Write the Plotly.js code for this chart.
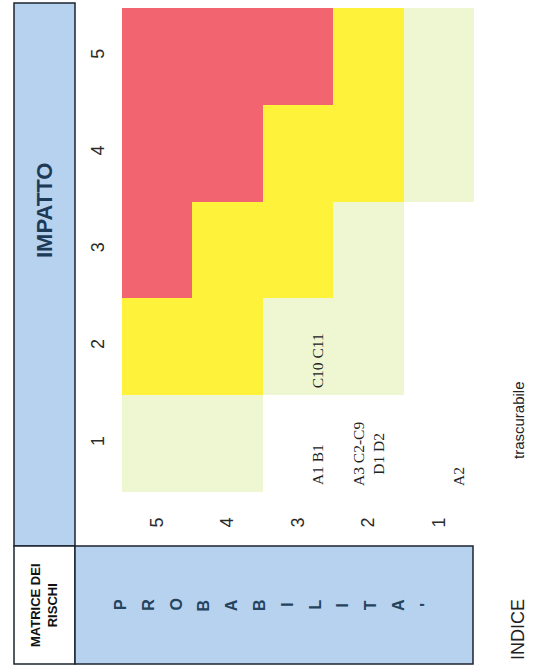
<!DOCTYPE html>
<html>
<head>
<meta charset="utf-8">
<script src="https://cdn.plot.ly/plotly-3.0.1.min.js"></script>
<style>
  html, body { margin: 0; padding: 0; background: #ffffff; }
  #chart { width: 536px; height: 672px; }
</style>
</head>
<body>
<div id="chart"></div>
<script>
// ---- data ----
var probabilityLabels = ['5', '4', '3', '2', '1'];   // columns, left to right
var impactLabels = ['1', '2', '3', '4', '5'];        // rows, bottom to top
// risk level per cell: 0 = white, 1 = trascurabile (light green), 2 = yellow, 3 = red
var levelImpact1 = [1, 1, 0, 0, 0];
var levelImpact2 = [2, 2, 1, 1, 0];
var levelImpact3 = [3, 2, 2, 1, 0];
var levelImpact4 = [3, 3, 2, 2, 1];
var levelImpact5 = [3, 3, 3, 2, 1];
// risk codes placed in cells
var codeProbability = ['3', '3', '2', '1'];
var codeImpact = ['2', '1', '1', '1'];
var codeText = ['C10 C11', 'A1 B1', 'A3 C2-C9<br>D1 D2', 'A2'];
var probabilityWord = ['P', 'R', 'O', 'B', 'A', 'B', 'I', 'L', 'I', 'T', 'A', "'"];

// ---- page geometry (pixels) ----
var W = 536, H = 672;
function px(x) { return x / W; }
function py(y) { return 1 - y / H; }
var gridL = 122, gridR = 474, gridT = 8, gridB = 492;

var colors = { white: '#ffffff', green: '#eef6d2', yellow: '#fff23a', red: '#f2646f', blue: '#b7d2ef', border: '#1b2530' };
var sans = '"Liberation Sans Narrow", "Liberation Sans", Arial, sans-serif';
var serif = '"Liberation Serif", "DejaVu Serif", serif';

var trace = {
  type: 'heatmap',
  x: probabilityLabels,
  y: impactLabels,
  z: [levelImpact1, levelImpact2, levelImpact3, levelImpact4, levelImpact5],
  zmin: -0.5, zmax: 3.5,
  colorscale: [
    [0, colors.white], [0.25, colors.white],
    [0.25, colors.green], [0.5, colors.green],
    [0.5, colors.yellow], [0.75, colors.yellow],
    [0.75, colors.red], [1, colors.red]
  ],
  showscale: false,
  hoverinfo: 'skip'
};

var annotations = [];
// codes in cells (category axes take the category index)
var codeShift = [19, 19, 0, 19];
for (var k = 0; k < codeText.length; k++) {
  annotations.push({
    x: probabilityLabels.indexOf(codeProbability[k]),
    y: impactLabels.indexOf(codeImpact[k]),
    xref: 'x', yref: 'y',
    text: codeText[k], showarrow: false, textangle: -90,
    xanchor: 'center', yanchor: 'bottom', xshift: codeShift[k], yshift: -44,
    font: { family: serif, size: 15.5, color: '#222222' }
  });
}
// headers
annotations.push({
  x: px(44), y: py(211), xref: 'paper', yref: 'paper', text: '<b>IMPATTO</b>',
  showarrow: false, textangle: -90, xanchor: 'center', yanchor: 'middle',
  font: { family: sans, size: 22, color: '#1d3a56' }
});
annotations.push({
  x: px(44), y: py(605), xref: 'paper', yref: 'paper', text: '<b>MATRICE DEI<br>RISCHI</b>',
  showarrow: false, textangle: -90, xanchor: 'center', yanchor: 'middle',
  font: { family: sans, size: 13, color: '#111111' }
});
for (var j = 0; j < probabilityWord.length; j++) {
  annotations.push({
    x: px(120 + j * 27.8), y: py(605), xref: 'paper', yref: 'paper',
    text: '<b>' + probabilityWord[j] + '</b>',
    showarrow: false, textangle: -90, xanchor: 'center', yanchor: 'middle',
    font: { family: sans, size: 16, color: '#24435c' }
  });
}
annotations.push({
  x: px(518), y: py(630), xref: 'paper', yref: 'paper', text: 'INDICE',
  showarrow: false, textangle: -90, xanchor: 'center', yanchor: 'middle',
  font: { family: sans, size: 18, color: '#222222' }
});
annotations.push({
  x: px(518), y: py(420), xref: 'paper', yref: 'paper', text: 'trascurabile',
  showarrow: false, textangle: -90, xanchor: 'center', yanchor: 'middle',
  font: { family: sans, size: 15, color: '#222222' }
});

var shapes = [
  { type: 'rect', xref: 'paper', yref: 'paper', x0: px(14), x1: px(75), y0: py(546), y1: py(3),
    fillcolor: colors.blue, line: { color: colors.border, width: 1.5 }, layer: 'below' },
  { type: 'rect', xref: 'paper', yref: 'paper', x0: px(14), x1: px(75), y0: py(664), y1: py(546),
    fillcolor: '#ffffff', line: { color: colors.border, width: 1.5 }, layer: 'below' },
  { type: 'rect', xref: 'paper', yref: 'paper', x0: px(75), x1: px(473), y0: py(664), y1: py(546),
    fillcolor: colors.blue, line: { color: colors.border, width: 1.5 }, layer: 'below' }
];

var layout = {
  width: W, height: H,
  margin: { l: 0, r: 0, t: 0, b: 0 },
  paper_bgcolor: '#ffffff', plot_bgcolor: '#ffffff',
  showlegend: false,
  xaxis: {
    domain: [px(gridL), px(gridR)], type: 'category',
    categoryorder: 'array', categoryarray: probabilityLabels,
    showgrid: false, zeroline: false, showline: false, ticks: '',
    tickangle: -90, ticklabelstandoff: 21,
    tickfont: { family: sans, size: 18, color: '#2a2a2a' }, fixedrange: true
  },
  yaxis: {
    domain: [py(gridB), py(gridT)], type: 'category',
    categoryorder: 'array', categoryarray: impactLabels,
    showgrid: false, zeroline: false, showline: false, ticks: '',
    tickangle: -90, ticklabelstandoff: 13,
    tickfont: { family: sans, size: 18, color: '#2a2a2a' }, fixedrange: true
  },
  shapes: shapes,
  annotations: annotations
};

Plotly.newPlot('chart', [trace], layout, { displayModeBar: false, staticPlot: true });
</script>
</body>
</html>
